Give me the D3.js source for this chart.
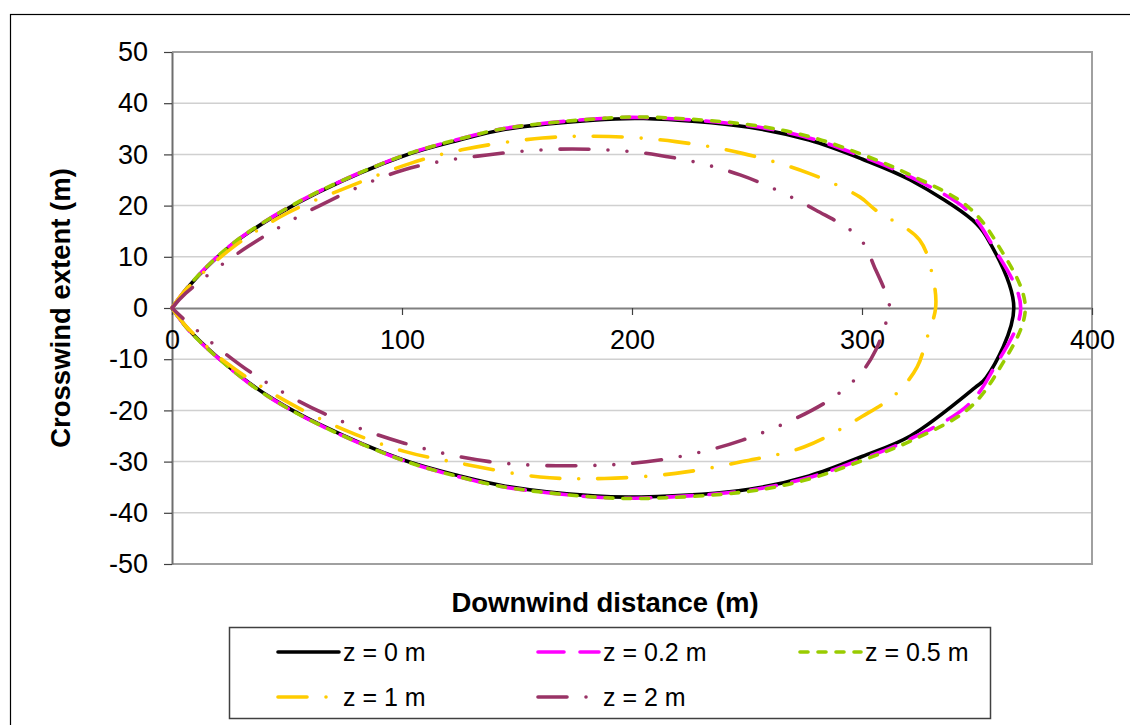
<!DOCTYPE html>
<html>
<head>
<meta charset="utf-8">
<script src="https://cdn.jsdelivr.net/npm/d3@7"></script>
<style>
  body { margin: 0; background: #fff; }
  text { font-family: "Liberation Sans", Arial, sans-serif; fill: #000; }
</style>
</head>
<body>
<svg id="chart" width="1130" height="725"></svg>
<script>
// outline points, [downwind, crosswind], going round each contour
const z0 = [[0,0],[8,4.6],[25,12],[44,17.8],[64,22.7],[100,29.6],[125,32.8],[145,34.9],[183,36.7],[205,37.0],[251,35.3],[277,32.8],[300,29.1],[321,25],[348,17.2],[354,14],[366,0],
  [354,-13.6],[349,-15.6],[321,-25],[300,-29],[277,-32.8],[251,-35.4],[204,-36.9],[183,-36.7],[145,-34.8],[125,-32.8],[100,-29.6],[64,-22.7],[44,-17.8],[30,-13.4],[8,-4.6],[0,0]];
const z02 = [[0,0],[8,4.7],[25,12.1],[44,17.9],[64,22.8],[100,29.7],[125,33],[145,35.1],[183,36.9],[205,37.2],[251,35.6],[277,33.2],[300,29.6],[321,25.6],[346,19],[357,12],[369,0],
  [357,-12],[346,-19],[321,-25.6],[300,-29.5],[277,-33.1],[251,-35.6],[205,-37.1],[183,-36.9],[145,-35],[125,-33],[100,-29.7],[64,-22.8],[44,-17.9],[30,-13.5],[8,-4.7],[0,0]];
const z05 = [[0,0],[8,4.7],[25,12.1],[44,17.9],[64,22.8],[100,29.7],[125,33],[145,35.1],[183,36.9],[205,37.3],[251,35.8],[277,33.5],[300,30],[321,26],[346,19.8],[359,12.4],[371,0],
  [359,-12.4],[346,-19.8],[321,-26],[300,-29.8],[277,-33.4],[251,-35.8],[205,-37.2],[183,-36.9],[145,-35],[125,-33],[100,-29.7],[64,-22.8],[44,-17.9],[30,-13.5],[8,-4.7],[0,0]];
const z1 = [[0,0],[6,3.5],[26,11.7],[50,18.5],[77,23.7],[104,28.3],[126,30.9],[161,33.2],[190,33.5],[219,32.5],[248,30.2],[277,26.3],[299,21.7],[306,19.1],[325,13.3],[331,5.5],[332,0],
  [328,-6.2],[324,-11.5],[315,-16.7],[300,-21.2],[275,-27.1],[248,-30],[219,-32.3],[188,-33.3],[160,-33],[125,-30.3],[101,-28],[75,-23.8],[48,-17.8],[23,-10.5],[6,-3.5],[0,0]];
const z2 = [[0,0],[6,2.9],[33,12],[66,20.4],[101,27],[137,29.9],[174,31.05],[211,29.9],[247,26],[280,19.1],[299,13.6],[306,7.4],[311,2.1],[312,0],
  [311,-2],[306,-8.2],[299,-13],[284,-18.5],[248,-25.8],[212,-29.7],[177,-30.8],[138,-30],[101,-26.4],[66,-20.6],[35,-12.8],[8,-3.3],[0,0]];

const seriesNames = ['z = 0 m', 'z = 0.2 m', 'z = 0.5 m', 'z = 1 m', 'z = 2 m'];
const seriesData = [z0, z02, z05, z1, z2];
const seriesColors = ['#000000', '#ff00ff', '#99cc00', '#ffcc00', '#993366'];
const seriesDash = [null, '26,16', '8,10', '29,19,0,19', '29,19,0,19,0,19'];

const xTicks = [0, 100, 200, 300, 400];
const yTicks = [-50, -40, -30, -20, -10, 0, 10, 20, 30, 40, 50];

const svg = d3.select('#chart');

const x = d3.scaleLinear().domain([0, 400]).range([172, 1092]);
const y = d3.scaleLinear().domain([-50, 50]).range([564, 52]);

// outer chart frame
svg.append('rect')
  .attr('x', 10.5).attr('y', 14.5)
  .attr('width', 1130).attr('height', 720)
  .attr('fill', 'none').attr('stroke', '#000').attr('stroke-width', 1.2);

// grid
svg.append('g')
  .selectAll('line')
  .data(yTicks.filter(d => d !== 0 && d !== 50 && d !== -50))
  .enter().append('line')
  .attr('x1', x(0)).attr('x2', x(400))
  .attr('y1', d => y(d)).attr('y2', d => y(d))
  .attr('stroke', '#d0d0d0').attr('stroke-width', 1.5);

// plot border top / right / bottom
svg.append('path')
  .attr('d', `M${x(0)},${y(50)}H${x(400)}V${y(-50)}H${x(0)}`)
  .attr('fill', 'none').attr('stroke', '#a0a0a0').attr('stroke-width', 2);

const fmt = d => String(d);

// y axis
const yAxis = svg.append('g')
  .attr('transform', `translate(${x(0)},0)`)
  .call(d3.axisLeft(y).tickValues(yTicks).tickFormat(fmt).tickSize(8).tickPadding(16).tickSizeOuter(0));
yAxis.select('.domain').attr('stroke', '#6e6e6e').attr('stroke-width', 2);
yAxis.selectAll('.tick line').attr('stroke', '#404040').attr('stroke-width', 1.2);
yAxis.selectAll('text').style('font-size', '27px').style('font-family', '"Liberation Sans", Arial, sans-serif');

// x axis sits on y = 0
const xAxis = svg.append('g')
  .attr('transform', `translate(0,${y(0)})`)
  .call(d3.axisBottom(x).tickValues(xTicks).tickFormat(fmt).tickSize(7).tickPadding(15).tickSizeOuter(0));
xAxis.select('.domain').attr('stroke', '#808080').attr('stroke-width', 2);
xAxis.selectAll('.tick line').attr('stroke', '#404040').attr('stroke-width', 1.2);
xAxis.selectAll('text').style('font-size', '27px').style('font-family', '"Liberation Sans", Arial, sans-serif');

const line = d3.line()
  .x(d => x(d[0]))
  .y(d => y(d[1]))
  .curve(d3.curveCatmullRom.alpha(0.5));

svg.append('g')
  .selectAll('path')
  .data(seriesData)
  .enter().append('path')
  .attr('d', line)
  .attr('fill', 'none')
  .attr('stroke', (d, i) => seriesColors[i])
  .attr('stroke-width', 3.6)
  .attr('stroke-linecap', 'round')
  .attr('stroke-linejoin', 'round')
  .attr('stroke-dasharray', (d, i) => seriesDash[i]);

// axis titles
svg.append('text')
  .attr('x', 605).attr('y', 612)
  .attr('text-anchor', 'middle')
  .style('font-size', '27.5px').style('font-weight', 'bold')
  .text('Downwind distance (m)');

svg.append('text')
  .attr('transform', `translate(70,${y(0)}) rotate(-90)`)
  .attr('text-anchor', 'middle')
  .style('font-size', '27.5px').style('font-weight', 'bold')
  .text('Crosswind extent (m)');

// legend
const legend = svg.append('g');
legend.append('rect')
  .attr('x', 229.5).attr('y', 627.5)
  .attr('width', 761).attr('height', 91)
  .attr('fill', '#fff').attr('stroke', '#404040').attr('stroke-width', 1.5);

const legX = [278, 538, 800, 278, 538];
const legY = [652, 652, 652, 697, 697];

const items = legend.selectAll('g.item')
  .data(seriesNames)
  .enter().append('g')
  .attr('class', 'item')
  .attr('transform', (d, i) => `translate(${legX[i]},${legY[i]})`);

items.append('line')
  .attr('x1', 0).attr('x2', 61)
  .attr('stroke', (d, i) => seriesColors[i])
  .attr('stroke-width', 3.6)
  .attr('stroke-linecap', 'round')
  .attr('stroke-dasharray', (d, i) => seriesDash[i]);

items.append('text')
  .attr('x', 65).attr('y', 9)
  .style('font-size', '25px')
  .text(d => d);
</script>
</body>
</html>
